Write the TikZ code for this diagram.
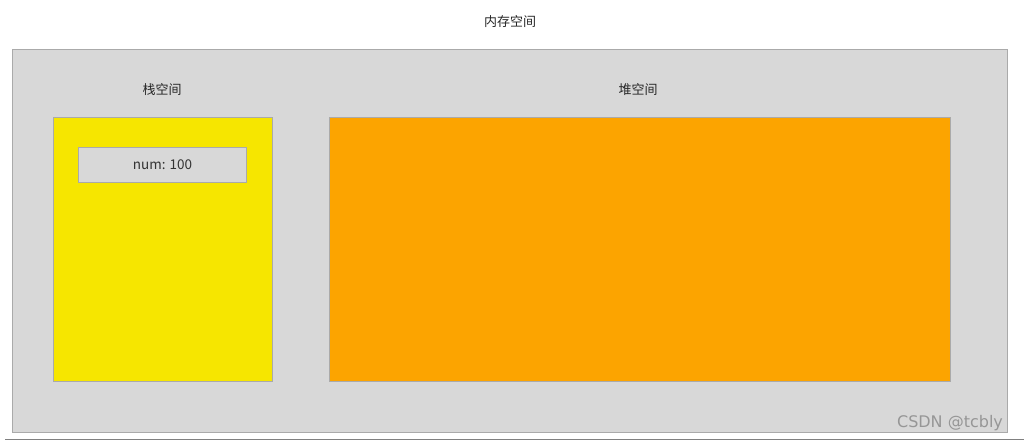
\documentclass[tikz,border=0pt]{standalone}
\usepackage{fontspec}
\setmainfont{Noto Sans CJK SC}
\newfontfamily\markfont{DejaVu Sans}
\usetikzlibrary{positioning}

\definecolor{memgray}{RGB}{216,216,216}
\definecolor{edgegray}{RGB}{170,170,170}
\definecolor{stackyellow}{RGB}{246,230,0}
\definecolor{heaporange}{RGB}{252,164,0}
\definecolor{markgray}{RGB}{150,150,150}

\begin{document}
\begin{tikzpicture}[x=1pt, y=-1pt,
    region/.style={draw=edgegray, line width=1pt, inner sep=0pt, anchor=north west},
    label/.style={font=\fontsize{13}{15}\selectfont, text=black!85}]
    \useasboundingbox (0,0) rectangle (1024,445);

    % Define nodes
    \node[region, fill=memgray, minimum width=995pt, minimum height=383pt] (mem) at (12,49) {};
    \node[region, fill=stackyellow, minimum width=219pt, minimum height=264pt] (stack) at (53,117) {};
    \node[region, fill=heaporange, minimum width=621pt, minimum height=264pt] (heap) at (329,117) {};
    \node[region, fill=memgray, minimum width=168pt, minimum height=35pt] (num) at (78,147) {};

    % Texts
    \node[label] (memtitle) at (510,22) {内存空间};
    \node[label] (stacktitle) at (162,90) {栈空间};
    \node[label] (heaptitle) at (638,90) {堆空间};
    \node[font=\fontsize{13.5}{15}\selectfont, text=black!80] (numtext) at (num.center) {num: 100};

    % Bottom rule and watermark
    \draw[gray, line width=1pt] (5,439) -- (1024,439);
    \node[font=\markfont\fontsize{16}{18}\selectfont, text=markgray] (mark) at (950,423) {CSDN @tcbly};
\end{tikzpicture}
\end{document}
